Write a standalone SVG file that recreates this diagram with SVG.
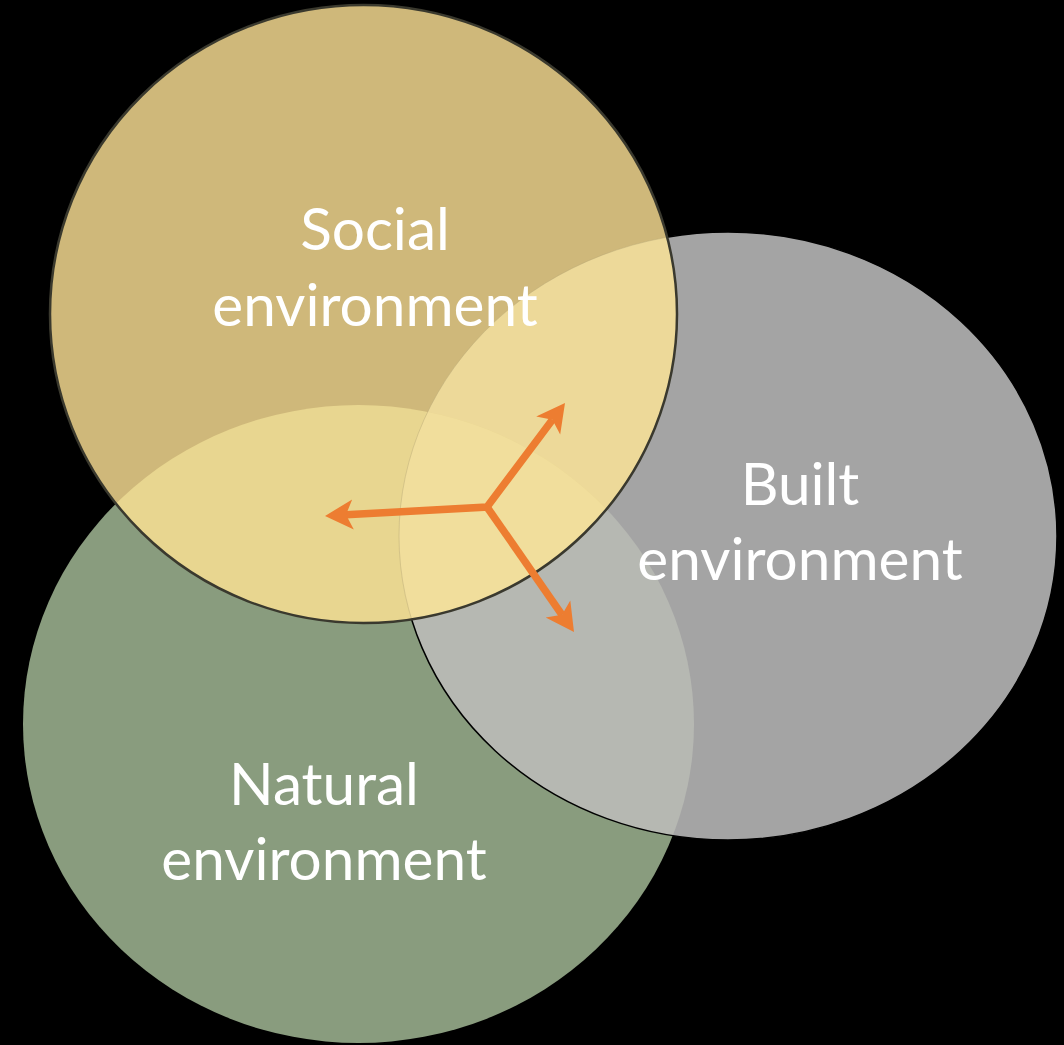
<svg xmlns="http://www.w3.org/2000/svg" width="1064" height="1045" viewBox="0 0 1064 1045">
  <style>
    .lbl { font-family: Lato, "Open Sans", "Liberation Sans", sans-serif; font-size: 58.5px; fill: #ffffff; text-anchor: middle; }
    .arrow { fill: none; stroke: #ED7D31; stroke-width: 7.5; stroke-linejoin: miter; }
  </style>
  <defs>
    <clipPath id="clipSocial"><ellipse cx="363.5" cy="314" rx="313.5" ry="309"/></clipPath>
    <clipPath id="clipBuilt"><ellipse cx="728" cy="536" rx="329" ry="304"/></clipPath>
    <marker id="head" viewBox="0 -16 30 32" refX="7" refY="0" markerWidth="30" markerHeight="32" markerUnits="userSpaceOnUse" orient="auto-start-reverse">
      <path d="M0,-15 L28,0 L0,15 L7,0 Z" fill="#ED7D31"/>
    </marker>
  </defs>
  <rect x="0" y="0" width="1064" height="1045" fill="#000000"/>

  <g id="natural">
    <ellipse cx="358.5" cy="724" rx="335.5" ry="319" fill="#899C7E"/>
  </g>
  <g id="built">
    <ellipse cx="728" cy="536" rx="329" ry="304" fill="#A4A4A4"/>
  </g>
  <g id="overlap-natural-built">
    <ellipse cx="358.5" cy="724" rx="335.5" ry="319" fill="#B6B8B2" clip-path="url(#clipBuilt)"/>
    <ellipse cx="728" cy="536" rx="329" ry="304" fill="none" stroke="#000000" stroke-width="1.5"/>
  </g>
  <g id="social">
    <ellipse cx="363.5" cy="314" rx="313.5" ry="309" fill="#CFB87A"/>
  </g>
  <g id="overlaps-social">
    <ellipse cx="728" cy="536" rx="329" ry="304" fill="#EDD999" clip-path="url(#clipSocial)"/>
    <ellipse cx="358.5" cy="724" rx="335.5" ry="319" fill="#E8D690" clip-path="url(#clipSocial)"/>
    <g clip-path="url(#clipSocial)">
      <ellipse cx="358.5" cy="724" rx="335.5" ry="319" fill="#F1DE9C" clip-path="url(#clipBuilt)"/>
      <ellipse cx="728" cy="536" rx="329" ry="304" fill="none" stroke="#B8A878" stroke-opacity="0.45" stroke-width="1"/>
    </g>
    <ellipse cx="363.5" cy="314" rx="313.5" ry="309" fill="none" stroke="#3A392E" stroke-width="2.5"/>
  </g>

  <g id="labels">
    <text class="lbl" x="375" y="250">Social</text>
    <text class="lbl" x="375" y="326">environment</text>
    <text class="lbl" x="800" y="505">Built</text>
    <text class="lbl" x="800" y="580">environment</text>
    <text class="lbl" x="324" y="805">Natural</text>
    <text class="lbl" x="324" y="880">environment</text>
  </g>

  <g id="connectors">
    <path class="arrow" d="M346,514.8 L487,507 L552.4,419.8" marker-start="url(#head)" marker-end="url(#head)"/>
    <path class="arrow" d="M487,507 L562,614.8" marker-end="url(#head)"/>
  </g>
</svg>
